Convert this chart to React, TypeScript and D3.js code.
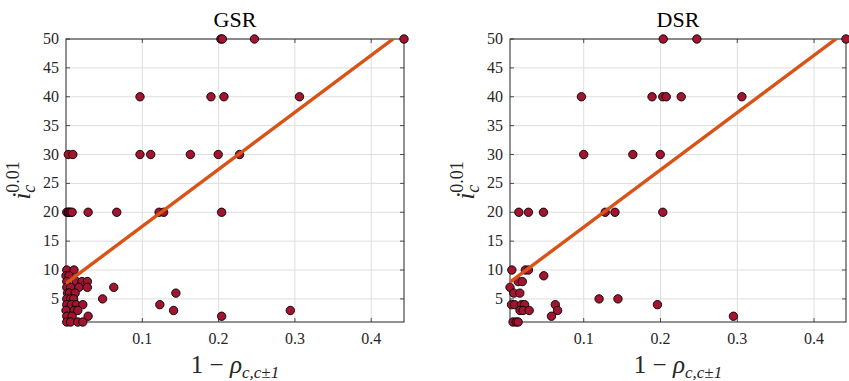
import React from "react";
import * as d3 from "d3";

// Global signal regression (GSR): 1 - rho (x) against i_c^{0.01} (y)
const GSR_X = [
  0.203, 0.205, 0.247, 0.443,
  0.097, 0.19, 0.207, 0.306,
  0.003, 0.009, 0.097, 0.111, 0.163, 0.1995, 0.2275,
  0.001, 0.003, 0.004, 0.006, 0.008, 0.029, 0.0665, 0.122, 0.128, 0.204,
  0.001, 0.0105,
  0.0, 0.004,
  0.001, 0.0135, 0.021, 0.028,
  0.001, 0.006, 0.017, 0.028, 0.0626,
  0.002, 0.0045, 0.012, 0.144,
  0.001, 0.006, 0.01, 0.048,
  0.001, 0.007, 0.0135, 0.022, 0.123,
  0.0, 0.011, 0.0155, 0.141, 0.294,
  0.001, 0.008, 0.029, 0.204,
  0.001, 0.006, 0.0155, 0.022,
];
const GSR_Y = [
  50, 50, 50, 50,
  40, 40, 40, 40,
  30, 30, 30, 30, 30, 30, 30,
  20, 20, 20, 20, 20, 20, 20, 20, 20, 20,
  10, 10,
  9, 9,
  8, 8, 8, 8,
  7, 7, 7, 7, 7,
  6, 6, 6, 6,
  5, 5, 5, 5,
  4, 4, 4, 4, 4,
  3, 3, 3, 3, 3,
  2, 2, 2, 2,
  1, 1, 1, 1,
];

// Diffuse signal regression (DSR)
const DSR_X = [
  0.2036, 0.2474, 0.4416,
  0.097, 0.189, 0.203, 0.2075, 0.227, 0.306,
  0.1, 0.164, 0.1997,
  0.0155, 0.028, 0.0476, 0.128, 0.1407, 0.203,
  0.0064, 0.024, 0.028,
  0.048,
  0.0146, 0.02,
  0.004,
  0.009, 0.0168,
  0.12, 0.1446,
  0.006, 0.01, 0.019, 0.023, 0.063, 0.196,
  0.017, 0.021, 0.029, 0.066,
  0.058, 0.295,
  0.008, 0.012, 0.0146,
];
const DSR_Y = [
  50, 50, 50,
  40, 40, 40, 40, 40, 40,
  30, 30, 30,
  20, 20, 20, 20, 20, 20,
  10, 10, 10,
  9,
  8, 8,
  7,
  6, 6,
  5, 5,
  4, 4, 4, 4, 4, 4,
  3, 3, 3, 3,
  2, 2,
  1, 1, 1,
];

// Least-squares fit lines: [intercept, slope]
const GSR_FIT = [7.7, 98.7];
const DSR_FIT = [7.5, 99.2];

const X_TICKS = [0.1, 0.2, 0.3, 0.4];
const Y_TICKS = [5, 10, 15, 20, 25, 30, 35, 40, 45, 50];
const TITLES = ["GSR", "DSR"];

const FONT = "Liberation Serif, serif";
const AXIS_COLOR = "#262626";
const GRID_COLOR = "#dedede";
const MARKER_FILL = "#A2142F";
const LINE_COLOR = "#D95319";

type PanelProps = {
  id: string;
  title: string;
  xs: number[];
  ys: number[];
  fit: number[];
  left: number;
  right: number;
};

const TOP = 39;
const BOTTOM = 322;
const TICK_LEN = 4;

function Panel({ id, title, xs, ys, fit, left, right }: PanelProps) {
  const x = d3
    .scaleLinear()
    .domain([d3.min(xs) as number, d3.max(xs) as number])
    .range([left, right]);
  const y = d3.scaleLinear().domain([1, 50]).range([BOTTOM, TOP]);
  const [x0, x1] = x.domain();
  const fitLine = d3
    .line<number>()
    .x((v) => x(v))
    .y((v) => y(fit[0] + fit[1] * v));
  const cx = (left + right) / 2;
  const cy = (TOP + BOTTOM) / 2;

  return (
    <g style={{ fontFamily: FONT }}>
      <defs>
        <clipPath id={`clip-${id}`}>
          <rect x={left} y={TOP} width={right - left} height={BOTTOM - TOP} />
        </clipPath>
      </defs>
      <rect x={left} y={TOP} width={right - left} height={BOTTOM - TOP} fill="#fff" />
      {/* grid */}
      {X_TICKS.map((t) => (
        <line key={`gx${t}`} x1={x(t)} x2={x(t)} y1={TOP} y2={BOTTOM} stroke={GRID_COLOR} strokeWidth={1} />
      ))}
      {Y_TICKS.map((t) => (
        <line key={`gy${t}`} x1={left} x2={right} y1={y(t)} y2={y(t)} stroke={GRID_COLOR} strokeWidth={1} />
      ))}
      {/* inward ticks on all four sides */}
      {X_TICKS.map((t) => (
        <g key={`tx${t}`}>
          <line x1={x(t)} x2={x(t)} y1={BOTTOM} y2={BOTTOM - TICK_LEN} stroke={AXIS_COLOR} strokeWidth={0.8} />
          <line x1={x(t)} x2={x(t)} y1={TOP} y2={TOP + TICK_LEN} stroke={AXIS_COLOR} strokeWidth={0.8} />
          <text x={x(t)} y={344} textAnchor="middle" fontSize={16} fill={AXIS_COLOR}>
            {d3.format(".1f")(t)}
          </text>
        </g>
      ))}
      {Y_TICKS.map((t) => (
        <g key={`ty${t}`}>
          <line x1={left} x2={left + TICK_LEN} y1={y(t)} y2={y(t)} stroke={AXIS_COLOR} strokeWidth={0.8} />
          <line x1={right} x2={right - TICK_LEN} y1={y(t)} y2={y(t)} stroke={AXIS_COLOR} strokeWidth={0.8} />
          <text x={left - 7} y={y(t) + 5} textAnchor="end" fontSize={16} fill={AXIS_COLOR}>
            {t}
          </text>
        </g>
      ))}
      {/* box */}
      <rect x={left} y={TOP} width={right - left} height={BOTTOM - TOP} fill="none" stroke={AXIS_COLOR} strokeWidth={1} />
      {/* points (markers are not clipped at the box) */}
      {xs.map((v, i) => (
        <circle key={i} cx={x(v)} cy={y(ys[i])} r={4.2} fill={MARKER_FILL} stroke="#000" strokeWidth={0.9} />
      ))}
      {/* fit */}
      <path
        d={fitLine([x0, x1]) ?? ""}
        fill="none"
        stroke={LINE_COLOR}
        strokeWidth={3.4}
        clipPath={`url(#clip-${id})`}
      />
      {/* title */}
      <text x={cx} y={27} textAnchor="middle" fontSize={22} fill="#000">
        {title}
      </text>
      {/* x label */}
      <text x={cx} y={373} textAnchor="middle" fontSize={25} fill={AXIS_COLOR}>
        1 −{" "}
        <tspan fontStyle="italic">ρ</tspan>
        <tspan fontStyle="italic" fontSize={17} dy={5}>c,c±1</tspan>
      </text>
      {/* y label */}
      <text
        transform={`translate(${left - 36},${cy}) rotate(-90)`}
        textAnchor="middle"
        fontSize={26}
        fill={AXIS_COLOR}
      >
        <tspan fontStyle="italic">i</tspan>
        <tspan fontStyle="italic" fontSize={18} dy={5}>c</tspan>
        <tspan fontSize={18} dx={-8} dy={-16}>0.01</tspan>
      </text>
    </g>
  );
}

export default function App() {
  return (
    <svg
      width={849}
      height={381}
      style={{ position: "absolute", left: 0, top: 0, background: "#fff" }}
    >
      <Panel id="gsr" title={TITLES[0]} xs={GSR_X} ys={GSR_Y} fit={GSR_FIT} left={66} right={404} />
      <Panel id="dsr" title={TITLES[1]} xs={DSR_X} ys={DSR_Y} fit={DSR_FIT} left={510} right={846} />
    </svg>
  );
}
